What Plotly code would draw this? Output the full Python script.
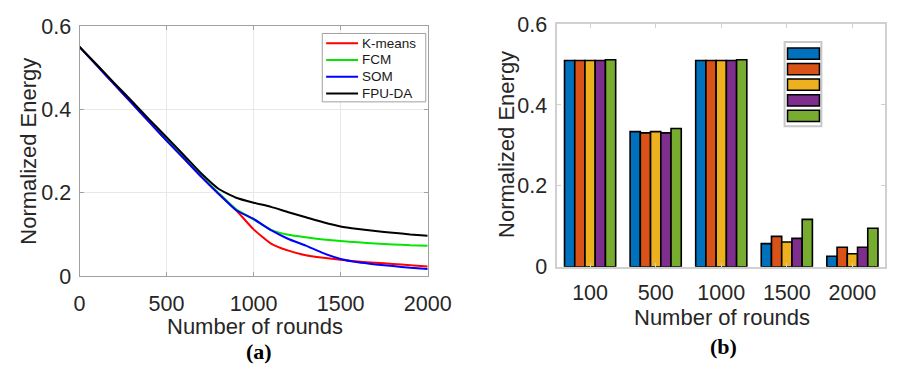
import plotly.graph_objects as go

# ---------------- data: panel (a) ----------------
rounds = [0, 100, 200, 300, 400, 500, 600, 700, 800, 900, 1000, 1100, 1200,
          1300, 1400, 1500, 1600, 1700, 1800, 1900, 2000]
kmeans = [0.55, 0.505, 0.46, 0.415, 0.37, 0.325, 0.282, 0.238, 0.197, 0.158,
          0.112, 0.078, 0.061, 0.050, 0.044, 0.039, 0.035, 0.032, 0.029, 0.026, 0.023]
fcm = [0.55, 0.506, 0.461, 0.416, 0.371, 0.327, 0.284, 0.240, 0.199, 0.160,
       0.136, 0.111, 0.099, 0.093, 0.088, 0.084, 0.081, 0.078, 0.076, 0.074, 0.073]
som = [0.55, 0.505, 0.46, 0.415, 0.37, 0.325, 0.282, 0.238, 0.197, 0.158,
       0.137, 0.110, 0.089, 0.073, 0.055, 0.041, 0.033, 0.028, 0.024, 0.020, 0.017]
fpuda = [0.55, 0.507, 0.463, 0.420, 0.376, 0.333, 0.290, 0.246, 0.209, 0.188,
         0.176, 0.166, 0.153, 0.141, 0.129, 0.119, 0.113, 0.108, 0.104, 0.100, 0.097]
line_names = ["K-means", "FCM", "SOM", "FPU-DA"]
line_colors = ["#ff0000", "#00e600", "#0000ff", "#000000"]

# ---------------- data: panel (b) ----------------
categories = ["100", "500", "1000", "1500", "2000"]
bar_s1 = [0.510, 0.334, 0.510, 0.057, 0.026]
bar_s2 = [0.510, 0.331, 0.510, 0.075, 0.048]
bar_s3 = [0.510, 0.334, 0.510, 0.061, 0.032]
bar_s4 = [0.510, 0.331, 0.510, 0.070, 0.048]
bar_s5 = [0.512, 0.342, 0.512, 0.117, 0.095]
bar_colors = ["#0072BD", "#D95319", "#EDB120", "#7E2F8E", "#77AC30"]

W, H = 915, 379
FONT = "Liberation Sans, Arial, sans-serif"
SERIF = "Liberation Serif, Times New Roman, serif"
TXT = "#262626"


def px(x):
    return x / W


def py(y):
    return (H - y) / H


fig = go.Figure()

for name, ys, col in zip(line_names, [kmeans, fcm, som, fpuda], line_colors):
    fig.add_trace(go.Scatter(x=rounds, y=ys, mode="lines", name=name, showlegend=False,
                             line=dict(color=col, width=2, shape="spline", smoothing=0.5),
                             xaxis="x", yaxis="y"))

for vals, col in zip([bar_s1, bar_s2, bar_s3, bar_s4, bar_s5], bar_colors):
    fig.add_trace(go.Bar(x=categories, y=vals, marker=dict(color=col, line=dict(color="#000000", width=1.6)),
                         xaxis="x2", yaxis="y2", showlegend=False))

axis_common = dict(zeroline=False, showline=True, mirror="allticks", ticks="inside", ticklen=4)

fig.update_layout(
    width=W, height=H,
    margin=dict(l=0, r=0, t=0, b=0),
    paper_bgcolor="white", plot_bgcolor="white",
    font=dict(family=FONT, color=TXT),
    showlegend=False,
    barmode="group", bargap=0.22, bargroupgap=0,
    xaxis=dict(domain=[px(76), px(436)], anchor="y", range=[0, 2000], tickvals=[0, 500, 1000, 1500, 2000],
               showgrid=True, gridcolor="#e8e8e8", linecolor="#a0a0a0", linewidth=1, tickcolor="#a0a0a0",
               tickfont=dict(size=21.5, color=TXT, family=FONT), ticklabelstandoff=8, **axis_common),
    yaxis=dict(domain=[py(283), py(16)], anchor="x", range=[0, 0.6], tickvals=[0, 0.2, 0.4, 0.6],
               ticktext=["0", "0.2", "0.4", "0.6"],
               showgrid=True, gridcolor="#e8e8e8", linecolor="#a0a0a0", linewidth=1, tickcolor="#a0a0a0",
               tickfont=dict(size=21.5, color=TXT, family=FONT), ticklabelstandoff=3, **axis_common),
    xaxis2=dict(domain=[px(570), px(909)], anchor="y2", type="category", range=[-0.5, 4.5],
                showgrid=False, linecolor="#d0d0d0", linewidth=1.5, tickcolor="#d0d0d0",
                tickfont=dict(size=21.5, color=TXT, family=FONT), ticklabelstandoff=6, **axis_common),
    yaxis2=dict(domain=[py(273), py(14)], anchor="x2", range=[0, 0.6], tickvals=[0, 0.2, 0.4, 0.6],
                ticktext=["0", "0.2", "0.4", "0.6"],
                showgrid=False, linecolor="#d0d0d0", linewidth=1.5, tickcolor="#d0d0d0",
                tickfont=dict(size=21.5, color=TXT, family=FONT), ticklabelstandoff=4, **axis_common),
)

annotations = [
    dict(text="Normalized Energy", x=px(23), y=py(150), textangle=-90, font=dict(size=22)),
    dict(text="Number of rounds", x=px(257), y=py(337), font=dict(size=22)),
    dict(text="<b>(a)</b>", x=px(262), y=py(363), font=dict(size=22, family=SERIF, color="#000")),
    dict(text="Normalized Energy", x=px(518), y=py(143), textangle=-90, font=dict(size=22)),
    dict(text="Number of rounds", x=px(740), y=py(327), font=dict(size=22)),
    dict(text="<b>(b)</b>", x=px(742), y=py(358), font=dict(size=22, family=SERIF, color="#000")),
]

shapes = []
# legend for panel (a)
shapes.append(dict(type="rect", xref="paper", yref="paper", layer="above",
                   x0=px(327), x1=px(434), y0=py(97), y1=py(24),
                   fillcolor="white", line=dict(color="#a0a0a0", width=1)))
leg_rows = [34.3, 52.3, 70.2, 88.0]
for yy, name, col in zip(leg_rows, line_names, line_colors):
    shapes.append(dict(type="line", xref="paper", yref="paper", layer="above",
                       x0=px(331), x1=px(364), y0=py(yy), y1=py(yy),
                       line=dict(color=col, width=2)))
    annotations.append(dict(text=name, x=px(366.5), y=py(yy), xanchor="left",
                            font=dict(size=13.5, color="#1a1a1a")))

# legend box for panel (b) (colour swatches only, as in the original)
shapes.append(dict(type="rect", xref="paper", yref="paper",
                   x0=px(805), x1=px(843), y0=py(123), y1=py(33),
                   fillcolor="white", line=dict(color="#c8c8c8", width=2)))
swatch_tops = [39.5, 56, 72.7, 89.3, 106]
for top, col in zip(swatch_tops, bar_colors):
    shapes.append(dict(type="rect", xref="paper", yref="paper",
                       x0=px(808), x1=px(841), y0=py(top + 12), y1=py(top),
                       fillcolor=col, line=dict(color="#000", width=1.5)))

for a in annotations:
    a.setdefault("xanchor", "center")
    a.update(xref="paper", yref="paper", showarrow=False, yanchor="middle")
    a["font"].setdefault("family", FONT)
    a["font"].setdefault("color", TXT)

fig.update_layout(annotations=annotations, shapes=shapes)

fig.write_html("out.html")
